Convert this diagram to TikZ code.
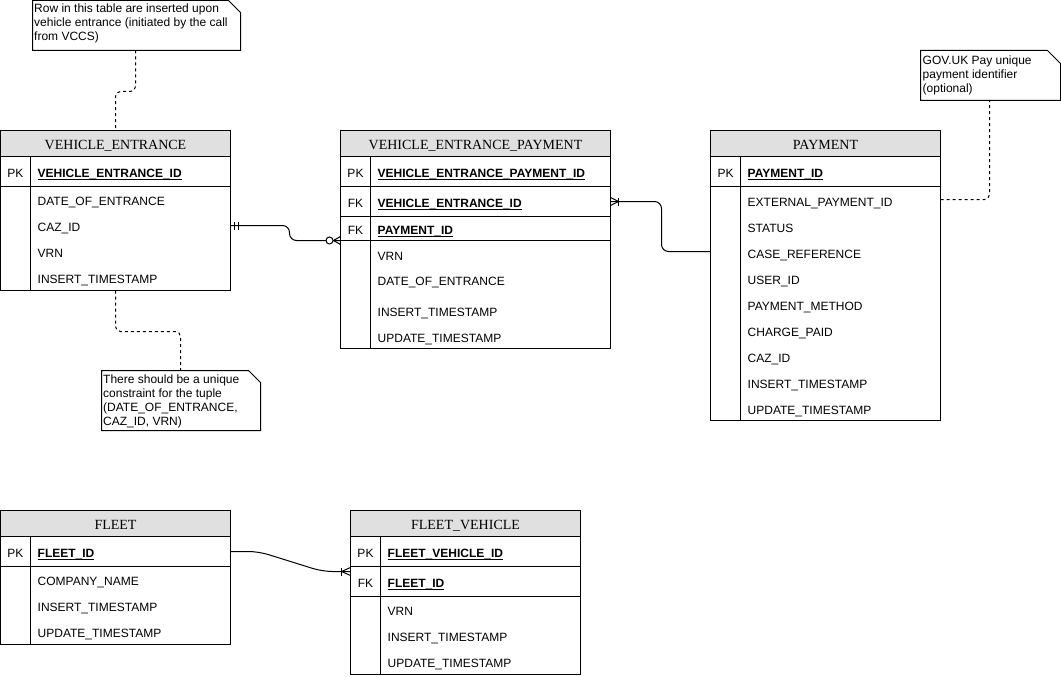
\documentclass[tikz,border=0pt]{standalone}
\usepackage{fontspec}
\setmainfont{Liberation Sans}
\newfontfamily\ttlserif{Liberation Serif}
\definecolor{hdrgray}{RGB}{224,224,224}
\newcommand\rowfont{\fontsize{12}{14}\selectfont}
\newcommand\ttlfont{\ttlserif\fontsize{14}{16}\selectfont}
\newsavebox\pkbox
\newcommand\pkname[1]{\sbox\pkbox{\bfseries #1}\rlap{\rule[-2.4pt]{\wd\pkbox}{0.9pt}}\usebox\pkbox}
\tikzset{
  hdr/.style={fill=hdrgray},
  ent/.style={draw, line width=1pt},
  sep/.style={line width=1pt},
  ttl/.style={font=\ttlfont, anchor=base, inner sep=0pt},
  kcol/.style={font=\rowfont, anchor=base, inner sep=0pt},
  attr/.style={font=\rowfont, anchor=base west, inner sep=0pt},
  notebox/.style={draw, line width=1pt, fill=white},
  ntext/.style={font=\rowfont, anchor=base west, inner sep=0pt},
  notelink/.style={line width=1pt, dash pattern=on 3pt off 3pt, rounded corners=5pt},
  rel/.style={line width=1pt, rounded corners=7pt},
  relsym/.style={line width=1pt},
}
\begin{document}
\begin{tikzpicture}[x=1pt,y=-1pt]
\useasboundingbox (0,0) rectangle (1061,677);
\begin{scope}[shift={(0.5,0.5)}]
% ---------- VEHICLE_ENTRANCE ----------
\fill[hdr] (0,130) rectangle (230,156);
\draw[ent] (0,130) rectangle (230,290);
\draw[sep] (0,156) -- (230,156) (0,186) -- (230,186) (30,156) -- (30,290);
\node[ttl] (veT) at (115,149) {VEHICLE\_ENTRANCE};
\node[kcol] (veK1) at (15,176.5) {PK};
\node[attr] (veA0) at (37,176.5) {\pkname{VEHICLE\_ENTRANCE\_ID}};
\node[attr] (veA1) at (37,205) {DATE\_OF\_ENTRANCE};
\node[attr] (veA2) at (37,231) {CAZ\_ID};
\node[attr] (veA3) at (37,257) {VRN};
\node[attr] (veA4) at (37,283) {INSERT\_TIMESTAMP};
% ---------- VEHICLE_ENTRANCE_PAYMENT ----------
\fill[hdr] (340,130) rectangle (610,156);
\draw[ent] (340,130) rectangle (610,348);
\draw[sep] (340,156) -- (610,156) (340,186) -- (610,186) (340,216) -- (610,216) (340,240) -- (610,240) (370,156) -- (370,348);
\node[ttl] (vepT) at (475,149) {VEHICLE\_ENTRANCE\_PAYMENT};
\node[kcol] (vepK1) at (355,176.5) {PK};
\node[kcol] (vepK2) at (355,206.5) {FK};
\node[kcol] (vepK3) at (355,233.5) {FK};
\node[attr] (vepA0) at (377,176.5) {\pkname{VEHICLE\_ENTRANCE\_PAYMENT\_ID}};
\node[attr] (vepA1) at (377,206.5) {\pkname{VEHICLE\_ENTRANCE\_ID}};
\node[attr] (vepA2) at (377,233.5) {\pkname{PAYMENT\_ID}};
\node[attr] (vepA3) at (377,259.5) {VRN};
\node[attr] (vepA4) at (377,285) {DATE\_OF\_ENTRANCE};
\node[attr] (vepA5) at (377,315.5) {INSERT\_TIMESTAMP};
\node[attr] (vepA6) at (377,341.5) {UPDATE\_TIMESTAMP};
% ---------- PAYMENT ----------
\fill[hdr] (710,130) rectangle (940,156);
\draw[ent] (710,130) rectangle (940,420);
\draw[sep] (710,156) -- (940,156) (710,186) -- (940,186) (740,156) -- (740,420);
\node[ttl] (payT) at (825,149) {PAYMENT};
\node[kcol] (payK1) at (725,176.5) {PK};
\node[attr] (payA0) at (747,176.5) {\pkname{PAYMENT\_ID}};
\node[attr] (payA1) at (747,205.5) {EXTERNAL\_PAYMENT\_ID};
\node[attr] (payA2) at (747,231.5) {STATUS};
\node[attr] (payA3) at (747,257.5) {CASE\_REFERENCE};
\node[attr] (payA4) at (747,283.5) {USER\_ID};
\node[attr] (payA5) at (747,309.5) {PAYMENT\_METHOD};
\node[attr] (payA6) at (747,335.5) {CHARGE\_PAID};
\node[attr] (payA7) at (747,361.5) {CAZ\_ID};
\node[attr] (payA8) at (747,387.5) {INSERT\_TIMESTAMP};
\node[attr] (payA9) at (747,413.5) {UPDATE\_TIMESTAMP};
% ---------- FLEET ----------
\fill[hdr] (0,510) rectangle (230,536);
\draw[ent] (0,510) rectangle (230,644);
\draw[sep] (0,536) -- (230,536) (0,566) -- (230,566) (30,536) -- (30,644);
\node[ttl] (flT) at (115,529) {FLEET};
\node[kcol] (flK1) at (15,556.5) {PK};
\node[attr] (flA0) at (37,556.5) {\pkname{FLEET\_ID}};
\node[attr] (flA1) at (37,585) {COMPANY\_NAME};
\node[attr] (flA2) at (37,611) {INSERT\_TIMESTAMP};
\node[attr] (flA3) at (37,637) {UPDATE\_TIMESTAMP};
% ---------- FLEET_VEHICLE ----------
\fill[hdr] (350,510) rectangle (580,536);
\draw[ent] (350,510) rectangle (580,674);
\draw[sep] (350,536) -- (580,536) (350,566) -- (580,566) (350,596) -- (580,596) (380,536) -- (380,674);
\node[ttl] (fvT) at (465,529) {FLEET\_VEHICLE};
\node[kcol] (fvK1) at (365,556.5) {PK};
\node[kcol] (fvK2) at (365,586.5) {FK};
\node[attr] (fvA0) at (387,556.5) {\pkname{FLEET\_VEHICLE\_ID}};
\node[attr] (fvA1) at (387,586.5) {\pkname{FLEET\_ID}};
\node[attr] (fvA2) at (387,614.5) {VRN};
\node[attr] (fvA3) at (387,640.5) {INSERT\_TIMESTAMP};
\node[attr] (fvA4) at (387,666.5) {UPDATE\_TIMESTAMP};
% ---------- Notes ----------
\draw[notebox] (32,0) -- (228,0) -- (240,12) -- (240,50) -- (32,50) -- cycle;
\node[ntext] (n1a) at (33.5,12.5) {Row in this table are inserted upon};
\node[ntext] (n1b) at (33.5,26.5) {vehicle entrance (initiated by the call};
\node[ntext] (n1c) at (33.5,40.5) {from VCCS)};
\draw[notebox] (101,370) -- (248,370) -- (260,382) -- (260,430) -- (101,430) -- cycle;
\node[ntext] (n2a) at (102.5,383) {There should be a unique};
\node[ntext] (n2b) at (102.5,397) {constraint for the tuple};
\node[ntext] (n2c) at (102.5,411) {(DATE\_OF\_ENTRANCE,};
\node[ntext] (n2d) at (102.5,425) {CAZ\_ID, VRN)};
\draw[notebox] (920,50) -- (1047,50) -- (1060,63) -- (1060,100) -- (920,100) -- cycle;
\node[ntext] (n3a) at (922,64) {GOV.UK Pay unique};
\node[ntext] (n3b) at (922,78) {payment identifier};
\node[ntext] (n3c) at (922,92) {(optional)};
% ---------- connector end points ----------
\coordinate (n1bot) at (135,50);
\coordinate (vetop) at (115,130);
\coordinate (vebot) at (115,290);
\coordinate (n2top) at (180,370);
\coordinate (payext) at (940,199);
\coordinate (n3bot) at (989,100);
\coordinate (veCaz) at (230,225);
\coordinate (vepFk2) at (340,240);
\coordinate (vepFk1) at (610,201);
\coordinate (payPk) at (710,251);
\coordinate (flPk) at (230,551);
\coordinate (fvFk) at (350,571);
% ---------- note links ----------
\draw[notelink] (n1bot) -- (135,91) -- (115,91) -- (vetop);
\draw[notelink] (vebot) -- (115,331) -- (180,331) -- (n2top);
\draw[notelink] (payext) -- (989,199) -- (n3bot);
% ---------- relations ----------
\draw[rel] (veCaz) -- (289,225) -- (289,240) -- (vepFk2);
\draw[relsym] ([xshift=4]veCaz) ++(0,-4) -- ++(0,8);
\draw[relsym] ([xshift=8]veCaz) ++(0,-4) -- ++(0,8);
\draw[relsym, fill=white] ([xshift=-11]vepFk2) circle (3.5);
\draw[relsym] ([xshift=-7]vepFk2) -- ([yshift=-4]vepFk2);
\draw[relsym] ([xshift=-7]vepFk2) -- ([yshift=4]vepFk2);
\draw[rel] (vepFk1) -- (661,201) -- (661,251) -- (payPk);
\draw[relsym] ([xshift=8]vepFk1) -- ([yshift=-4]vepFk1);
\draw[relsym] ([xshift=8]vepFk1) -- ([yshift=4]vepFk1);
\draw[relsym] ([xshift=8]vepFk1) ++(0,-4) -- ++(0,8);
\draw[rel, rounded corners=10pt] (flPk) -- (258,551) -- (322,571) -- (fvFk);
\draw[relsym] ([xshift=-9]fvFk) -- ([yshift=-4]fvFk);
\draw[relsym] ([xshift=-9]fvFk) -- ([yshift=4]fvFk);
\draw[relsym] ([xshift=-9]fvFk) ++(0,-4) -- ++(0,8);
\end{scope}
\end{tikzpicture}
\end{document}
